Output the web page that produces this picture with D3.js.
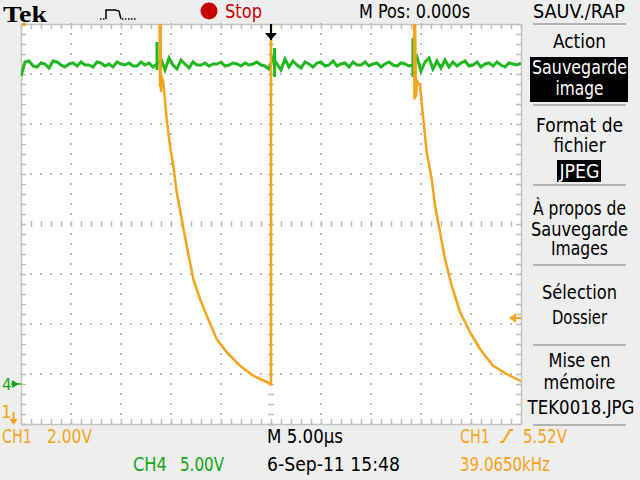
<!DOCTYPE html>
<html>
<head>
<meta charset="utf-8">
<title>Tek scope capture</title>
<script src="https://d3js.org/d3.v7.min.js"></script>
<style>
    body { margin: 0; background: #eeeeee; }
    svg text { font-family: 'DejaVu Sans', 'Liberation Sans', sans-serif; }
</style>
</head>
<body>
<div id="scope"></div>
<script>
// ---- data ----
// horizontal: 5 us/div, 10 div, trigger in the middle
const timeRange = [-25, 25];
// CH1: 2 V/div, ground sits below the screen; CH4: 5 V/div
const ch1VoltRange = [1.28, 17.28];
const ch4VoltRange = [-4, 36];

// CH1 trace (us, V); values above 17.28 V are clipped off the top
const ch1Times = [-25, -11.15, -11.1, -11.05, -11.0, -10.95, -10.77, -10.43, -10.1, -9.77, -9.43, -8.93, -8.43,
    -7.77, -7.1, -6.43, -5.43, -4.43, -3.1, -1.77, -0.1, 0, 0, 14.3, 14.35, 14.4, 14.5, 14.6, 14.9, 15.23, 15.57,
    16.07, 16.4, 16.9, 17.4, 18.07, 18.9, 19.9, 20.9, 22.2, 23.57, 24.9, 25];
const ch1Volts = [18, 18, 14.8, 17.6, 14.6, 15.2, 14.95, 13.48, 12.41, 11.61, 10.55, 9.48, 8.41,
    7.08, 6.28, 5.61, 4.68, 4.15, 3.61, 3.21, 2.9, 2.85, 18, 18, 14.3, 17.5, 14.4, 15.0, 14.81, 13.48, 12.16,
    11.08, 10.01, 8.96, 7.88, 6.81, 5.76, 4.96, 4.28, 3.61, 3.28, 3.01, 2.99];

// CH4 trace, one sample every 0.4 us from -25 us
const ch4Start = -25;
const ch4Step = 0.4;
const ch4Volts = [30.8, 32.2, 32.3, 31.8, 31.7, 32.1, 32.0, 31.6, 32.3, 32.2, 31.9, 31.7, 32.0, 32.1, 31.8, 32.2,
    31.9, 31.9, 31.7, 32.2, 32.1, 31.8, 32.0, 31.7, 32.2, 32.0, 31.9, 32.1, 31.8, 31.8, 32.2, 31.9, 32.1, 31.7, 32.0,
    32.5, 31.4, 32.6, 31.9, 31.5, 32.4, 32.0, 31.6,
    32.2, 31.9, 31.9, 32.1, 31.8, 32.0, 32.0, 32.2, 31.8, 31.9, 32.1, 32.0, 31.8, 32.1, 31.9, 32.0, 32.2, 31.9, 31.8,
    31.5, 32.6, 32.0, 31.4, 32.5, 31.7, 32.3, 31.9, 31.6,
    32.2, 32.0, 31.7, 32.1, 32.2, 31.8, 31.9, 32.3, 31.8, 32.0, 32.1, 31.7, 32.2, 31.9, 31.9, 32.2, 31.8, 32.0, 32.1,
    31.7, 32.0, 32.2, 31.9, 31.8, 32.1, 32.0, 31.8,
    31.9, 32.7, 31.3, 32.2, 32.6, 31.5, 32.3, 31.6, 32.4, 31.7,
    32.2, 31.8, 32.1, 32.3, 31.8, 31.9, 32.2, 31.7, 32.0, 32.1, 31.8, 32.2, 31.9, 31.7, 32.1, 32.0, 31.9, 32.1];
// CH4 spikes at the CH1 edges
const ch4SpikeTimes = [-11.4, 0.35, 14.2];
const ch4SpikeHigh = [34.2, 33.6, 34.6];
const ch4SpikeLow = [31.4, 30.7, 30.7];

const ch1TriggerLevel = 5.52;

// text on screen
const statusLabel = "M Pos: 0.000s";
const menuTitle = "SAUV./RAP";
const menuLabels = ["Action", "Sauvegarde", "image", "Format de", "fichier", "JPEG", "\u00c0 propos de",
    "Sauvegarde", "Images", "S\u00e9lection", "Dossier", "Mise en", "m\u00e9moire", "TEK0018.JPG"];
const readoutTop = ["CH1", "2.00V", "M 5.00\u00b5s", "CH1", "5.52V"];
const readoutBottom = ["CH4", "5.00V", "6-Sep-11 15:48", "39.0650kHz"];

// ---- layout ----
const W = 640, H = 480;
const plot = {left: 21, right: 521, top: 24, bottom: 424};
const orange = "#f5a31a", green = "#1fb81f", greenText = "#12a812", grid = "#bdbdbd";
const fontSize = 19;

const svg = d3.select("#scope").append("svg")
    .attr("width", W).attr("height", H)
    .style("display", "block");

svg.append("rect").attr("width", W).attr("height", H).attr("fill", "#eeeeee");

const x = d3.scaleLinear().domain(timeRange).range([plot.left, plot.right]);
const yDiv = d3.scaleLinear().domain([-4, 4]).range([plot.bottom, plot.top]);
const y1 = d3.scaleLinear().domain(ch1VoltRange).range([plot.bottom, plot.top]);
const y4 = d3.scaleLinear().domain(ch4VoltRange).range([plot.bottom, plot.top]);

// screen area
svg.append("rect")
    .attr("x", plot.left).attr("y", plot.top)
    .attr("width", plot.right - plot.left).attr("height", plot.bottom - plot.top)
    .attr("fill", "white");

const minorT = d3.range(-25, 25.01, 1);
const minorD = d3.range(-4, 4.01, 0.2);
const majorT = [-20, -15, -10, -5, 5, 10, 15, 20];
const majorD = [-3, -2, -1, 1, 2, 3];

// dotted graticule
const dots = svg.append("g").attr("fill", grid);
majorT.forEach(t => {
    dots.selectAll(null).data(minorD).join("rect")
        .attr("x", x(t) - 1).attr("y", d => yDiv(d) - 1)
        .attr("width", 2).attr("height", 2);
});
majorD.forEach(dv => {
    dots.selectAll(null).data(minorT).join("rect")
        .attr("x", d => x(d) - 1).attr("y", yDiv(dv) - 1)
        .attr("width", 2).attr("height", 2);
});

// frame rulers and centre cross
function styleAxis(g, hideDomain) {
    g.selectAll("line").attr("stroke", grid).attr("stroke-width", 1.5);
    g.select(".domain").attr("stroke", hideDomain ? "none" : "#c4c4c4").attr("stroke-width", 1.5);
}
svg.append("g").attr("transform", `translate(0,${plot.top})`)
    .call(d3.axisBottom(x).tickValues(minorT).tickSize(5).tickSizeOuter(0).tickFormat(""))
    .call(g => styleAxis(g, false));
svg.append("g").attr("transform", `translate(0,${plot.bottom})`)
    .call(d3.axisTop(x).tickValues(minorT).tickSize(5).tickSizeOuter(0).tickFormat(""))
    .call(g => styleAxis(g, false));
svg.append("g").attr("transform", `translate(${plot.left},0)`)
    .call(d3.axisRight(yDiv).tickValues(minorD).tickSize(5).tickSizeOuter(0).tickFormat(""))
    .call(g => styleAxis(g, false));
svg.append("g").attr("transform", `translate(${plot.right},0)`)
    .call(d3.axisLeft(yDiv).tickValues(minorD).tickSize(5).tickSizeOuter(0).tickFormat(""))
    .call(g => styleAxis(g, false));
svg.append("g").attr("transform", `translate(0,${yDiv(0) - 3})`)
    .call(d3.axisBottom(x).tickValues(minorT).tickSize(6).tickSizeOuter(0).tickFormat(""))
    .call(g => styleAxis(g, true));
svg.append("g").attr("transform", `translate(${x(0) - 3},0)`)
    .call(d3.axisRight(yDiv).tickValues(minorD).tickSize(6).tickSizeOuter(0).tickFormat(""))
    .call(g => styleAxis(g, true));

// traces
svg.append("clipPath").attr("id", "screen").append("rect")
    .attr("x", plot.left).attr("y", plot.top)
    .attr("width", plot.right - plot.left).attr("height", plot.bottom - plot.top);
const traces = svg.append("g").attr("clip-path", "url(#screen)");

const ch4Data = ch4Volts.map((v, i) => ({t: ch4Start + i * ch4Step, v}));
traces.append("path")
    .datum(ch4Data)
    .attr("fill", "none").attr("stroke", green).attr("stroke-width", 3)
    .attr("d", d3.line().x(d => x(d.t)).y(d => y4(d.v)));
traces.selectAll(null).data(ch4SpikeTimes).join("line")
    .attr("x1", d => x(d)).attr("x2", d => x(d))
    .attr("y1", (d, i) => y4(ch4SpikeHigh[i])).attr("y2", (d, i) => y4(ch4SpikeLow[i]))
    .attr("stroke", green).attr("stroke-width", 3);

const ch1Data = ch1Times.map((t, i) => ({t, v: ch1Volts[i]}));
traces.append("path")
    .datum(ch1Data)
    .attr("fill", "none").attr("stroke", orange).attr("stroke-width", 2.5)
    .attr("stroke-linejoin", "round")
    .attr("d", d3.line().x(d => x(d.t)).y(d => y1(d.v)));

// trigger position marker (top, t = 0)
const tx = x(0);
svg.append("line").attr("x1", tx).attr("x2", tx).attr("y1", plot.top).attr("y2", plot.top + 16)
    .attr("stroke", "black").attr("stroke-width", 2);
svg.append("path")
    .attr("d", `M${tx - 6},${plot.top + 9}H${tx + 6}L${tx},${plot.top + 16}Z`)
    .attr("fill", "black");
svg.append("rect").attr("x", plot.left + 1).attr("y", plot.top - 1).attr("width", 4).attr("height", 3)
    .attr("fill", orange);

// trigger level marker (right edge)
const ty = y1(ch1TriggerLevel);
svg.append("path")
    .attr("d", `M${plot.right - 12},${ty}L${plot.right - 5},${ty - 5}V${ty + 5}Z`)
    .attr("fill", orange);
svg.append("line").attr("x1", plot.right - 6).attr("x2", plot.right).attr("y1", ty).attr("y2", ty)
    .attr("stroke", orange).attr("stroke-width", 2);

// channel ground markers (left edge)
const g4 = y4(0);
svg.append("text").attr("x", 2).attr("y", g4 + 6).attr("fill", greenText)
    .attr("font-size", 15).text("4");
svg.append("path").attr("d", `M12,${g4 - 4}L19,${g4}L12,${g4 + 4}Z`).attr("fill", greenText);
svg.append("line").attr("x1", 11).attr("x2", plot.left).attr("y1", g4).attr("y2", g4)
    .attr("stroke", greenText).attr("stroke-width", 1.5);
svg.append("text").attr("x", 1).attr("y", 418).attr("fill", orange)
    .attr("font-size", 17).text("1");
svg.append("line").attr("x1", 13.5).attr("x2", 13.5).attr("y1", 412).attr("y2", 420)
    .attr("stroke", orange).attr("stroke-width", 2);
svg.append("path").attr("d", "M9.5,419H17.5L13.5,425Z").attr("fill", orange);

// ---- top status bar ----
svg.append("text").attr("x", 3).attr("y", 21.5)
    .style("font-family", "'Liberation Serif', serif")
    .attr("font-weight", "bold").attr("font-size", 24)
    .attr("textLength", 44).attr("lengthAdjust", "spacingAndGlyphs").text("Tek");

svg.append("path")
    .attr("d", "M100,19H106")
    .attr("stroke", "black").attr("stroke-width", 1.5).attr("stroke-dasharray", "1.5,1.5");
svg.append("path")
    .attr("d", "M106,19V10H115L119,11L121,19")
    .attr("fill", "none").attr("stroke", "black").attr("stroke-width", 1.5);
svg.append("path")
    .attr("d", "M122,19H136")
    .attr("stroke", "black").attr("stroke-width", 1.5).attr("stroke-dasharray", "1.5,1.5");

svg.append("circle").attr("cx", 209).attr("cy", 11).attr("r", 8.5).attr("fill", "#c80000");
svg.append("text").attr("x", 225).attr("y", 18).attr("fill", "#c80000").attr("font-size", fontSize)
    .attr("textLength", 37).attr("lengthAdjust", "spacingAndGlyphs").text("Stop");
svg.append("text").attr("x", 359).attr("y", 18).attr("font-size", fontSize)
    .attr("textLength", 111).attr("lengthAdjust", "spacingAndGlyphs").text(statusLabel);
svg.append("text").attr("x", 533).attr("y", 18).attr("font-size", fontSize)
    .attr("textLength", 92).attr("lengthAdjust", "spacingAndGlyphs").text(menuTitle);

// ---- side menu ----
const menuSeparators = [24, 105, 185, 265, 345, 425];
svg.selectAll(null).data(menuSeparators).join("line")
    .attr("x1", 533).attr("x2", 626).attr("y1", d => d).attr("y2", d => d)
    .attr("stroke", "#b4b4b4").attr("stroke-width", 2);

svg.append("rect").attr("x", 530).attr("y", 57).attr("width", 98).attr("height", 45).attr("fill", "black");
svg.append("rect").attr("x", 557).attr("y", 160).attr("width", 44).attr("height", 22).attr("fill", "black");

const menuBaselines = [48, 74, 95, 132, 152, 178, 215, 236, 255, 299, 324, 367, 389, 414];
const menuWidths = [53, 95, 48, 87, 52, 40, 93, 97, 57, 75, 55, 62, 72, 107];
const menuInverse = [false, true, true, false, false, true, false, false, false, false, false, false, false, false];
svg.append("g").selectAll("text").data(menuLabels).join("text")
    .attr("x", d => d === "TEK0018.JPG" ? 581 : 579.5)
    .attr("y", (d, i) => menuBaselines[i])
    .attr("text-anchor", "middle")
    .attr("font-size", fontSize)
    .attr("fill", (d, i) => menuInverse[i] ? "white" : "black")
    .attr("textLength", (d, i) => menuWidths[i])
    .attr("lengthAdjust", "spacingAndGlyphs")
    .text(d => d);

// ---- bottom readouts ----
const row1 = 443, row2 = 471;
const readTop = [
    {x: 2, w: 30, c: orange},
    {x: 47, w: 45, c: orange},
    {x: 267, w: 76, c: "black"},
    {x: 460, w: 30, c: orange},
    {x: 523, w: 44, c: orange}
];
svg.append("g").selectAll("text").data(readoutTop).join("text")
    .attr("x", (d, i) => readTop[i].x).attr("y", row1)
    .attr("font-size", fontSize).attr("fill", (d, i) => readTop[i].c)
    .attr("textLength", (d, i) => readTop[i].w).attr("lengthAdjust", "spacingAndGlyphs")
    .text(d => d);
// rising-slope symbol
svg.append("path").attr("d", `M500,${row1 - 1}H503L510,${row1 - 13}H513`)
    .attr("fill", "none").attr("stroke", orange).attr("stroke-width", 2);

const readBot = [
    {x: 133, w: 34, c: greenText},
    {x: 180, w: 44, c: greenText},
    {x: 267, w: 133, c: "black"},
    {x: 460, w: 90, c: orange}
];
svg.append("g").selectAll("text").data(readoutBottom).join("text")
    .attr("x", (d, i) => readBot[i].x).attr("y", row2)
    .attr("font-size", fontSize).attr("fill", (d, i) => readBot[i].c)
    .attr("textLength", (d, i) => readBot[i].w).attr("lengthAdjust", "spacingAndGlyphs")
    .text(d => d);
</script>
</body>
</html>
